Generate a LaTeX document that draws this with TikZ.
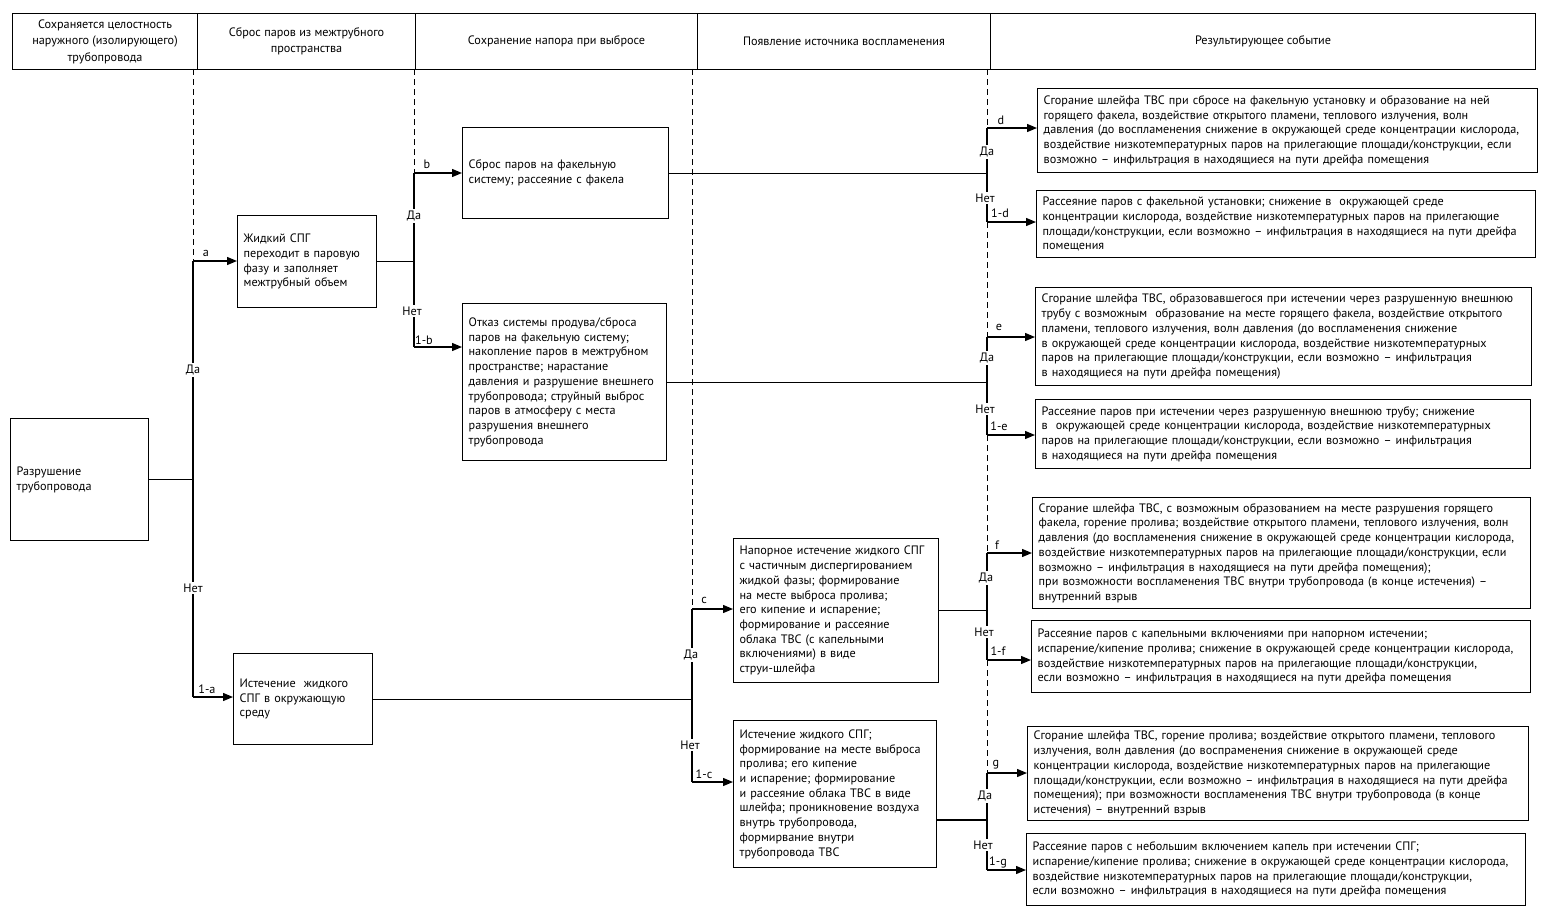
\documentclass[tikz,border=0pt]{standalone}
\usepackage{fontspec}
\setmainfont{PT Sans}
\usetikzlibrary{arrows.meta,calc}
\begin{document}
\begin{tikzpicture}[x=1pt,y=-1pt,
  txt/.style={font=\fontsize{12.2}{14.7}\selectfont},
  box/.style={draw, line width=1.3pt, align=left, inner xsep=6pt, inner ysep=2pt, anchor=north west, txt},
  hbox/.style={draw, line width=1pt, align=center, anchor=north west, minimum height=56pt, font=\fontsize{12.2}{16.5}\selectfont},
  conn/.style={line width=1.3pt},
  arr/.style={line width=1.3pt, -{Triangle[length=10pt,width=8pt]}},
  guide/.style={line width=0.7pt, dash pattern=on 6pt off 4pt},
  lbl/.style={inner sep=1pt, txt},
  yn/.style={fill=white, inner xsep=1pt, inner ysep=2pt, txt},
]
\useasboundingbox (0,0) rectangle (1547,907);

% header
\node[hbox, minimum width=185pt] (h1) at (12,13) {Сохраняется целостность\\наружного (изолирующего)\\трубопровода};
\node[hbox, minimum width=218pt] (h2) at (197,13) {Сброс паров из межтрубного\\пространства};
\node[hbox, minimum width=282pt] (h3) at (415,13) {Сохранение напора при выбросе};
\node[hbox, minimum width=293pt] (h4) at (697,13) {Появление источника воспламенения};
\node[hbox, minimum width=545pt] (h5) at (990,13) {Результирующее событие};

% left boxes
\node[box, text width=126pt, minimum height=122pt] (root) at (10,418) {Разрушение\\трубопровода};
\node[box, text width=127pt, minimum height=92pt] (liq) at (237,215) {Жидкий СПГ\\переходит в паровую\\фазу и заполняет\\межтрубный объем};
\node[box, text width=127pt, minimum height=91pt] (out) at (233,653) {Истечение \ жидкого\\СПГ в окружающую\\среду};
\node[box, text width=194pt, minimum height=91pt] (bb) at (462,127) {Сброс паров на факельную\\систему; рассеяние с факела};
\node[box, text width=192pt, minimum height=157pt] (nb) at (462,303) {Отказ системы продува/сброса\\паров на факельную систему;\\накопление паров в межтрубном\\пространстве; нарастание\\давления и разрушение внешнего\\трубопровода; струйный выброс\\паров в атмосферу с места\\разрушения внешнего\\трубопровода};
\node[box, text width=193pt, minimum height=144pt] (cc) at (733,538) {Напорное истечение жидкого СПГ\\с частичным диспергированием\\жидкой фазы; формирование\\на месте выброса пролива;\\его кипение и испарение;\\формирование и рассеяние\\облака ТВС (с капельными\\включениями) в виде\\струи-шлейфа};
\node[box, text width=191pt, minimum height=147pt] (nc) at (733,720) {Истечение жидкого СПГ;\\формирование на месте выброса\\пролива; его кипение\\и испарение; формирование\\и рассеяние облака ТВС в виде\\шлейфа; проникновение воздуха\\внутрь трубопровода,\\формирвание внутри\\трубопровода ТВС};

% result boxes
\node[box, text width=488pt, minimum height=84pt] (d) at (1037,88) {Сгорание шлейфа ТВС при сбросе на факельную установку и образование на ней\\горящего факела, воздействие открытого пламени, теплового излучения, волн\\давления (до воспламенения снижение в окружающей среде концентрации кислорода,\\воздействие низкотемпературных паров на прилегающие площади/конструкции, если\\возможно -- инфильтрация в находящиеся на пути дрейфа помещения};
\node[box, text width=487pt, minimum height=67pt] (nd) at (1036,190) {Рассеяние паров с факельной установки; снижение в \ окружающей среде\\концентрации кислорода, воздействие низкотемпературных паров на прилегающие\\площади/конструкции, если возможно -- инфильтрация в находящиеся на пути дрейфа\\помещения};
\node[box, text width=484pt, minimum height=98pt] (e) at (1035,287) {Сгорание шлейфа ТВС, образовавшегося при истечении через разрушенную внешнюю\\трубу с возможным \ образование на месте горящего факела, воздействие открытого\\пламени, теплового излучения, волн давления (до воспламенения снижение\\в окружающей среде концентрации кислорода, воздействие низкотемпературных\\паров на прилегающие площади/конструкции, если возможно -- инфильтрация\\в находящиеся на пути дрейфа помещения)};
\node[box, text width=483pt, minimum height=69pt] (ne) at (1035,399) {Рассеяние паров при истечении через разрушенную внешнюю трубу; снижение\\в \ окружающей среде концентрации кислорода, воздействие низкотемпературных\\паров на прилегающие площади/конструкции, если возможно -- инфильтрация\\в находящиеся на пути дрейфа помещения};
\node[box, text width=486pt, minimum height=111pt] (f) at (1032,497) {Сгорание шлейфа ТВС, с возможным образованием на месте разрушения горящего\\факела, горение пролива; воздействие открытого пламени, теплового излучения, волн\\давления (до воспламенения снижение в окружающей среде концентрации кислорода,\\воздействие низкотемпературных паров на прилегающие площади/конструкции, если\\возможно -- инфильтрация в находящиеся на пути дрейфа помещения);\\при возможности воспламенения ТВС внутри трубопровода (в конце истечения) --\\внутренний взрыв};
\node[box, text width=487pt, minimum height=72pt] (nf) at (1031,620) {Рассеяние паров с капельными включениями при напорном истечении;\\испарение/кипение пролива; снижение в окружающей среде концентрации кислорода,\\воздействие низкотемпературных паров на прилегающие площади/конструкции,\\если возможно -- инфильтрация в находящиеся на пути дрейфа помещения};
\node[box, text width=489pt, minimum height=94pt] (g) at (1027,726) {Сгорание шлейфа ТВС, горение пролива; воздействие открытого пламени, теплового\\излучения, волн давления (до воспраменения снижение в окружающей среде\\концентрации кислорода, воздействие низкотемпературных паров на прилегающие\\площади/конструкции, если возможно -- инфильтрация в находящиеся на пути дрейфа\\помещения); при возможности воспламенения ТВС внутри трубопровода (в конце\\истечения) -- внутренний взрыв};
\node[box, text width=487pt, minimum height=72pt] (ng) at (1026,833) {Рассеяние паров с небольшим включением капель при истечении СПГ;\\испарение/кипение пролива; снижение в окружающей среде концентрации кислорода,\\воздействие низкотемпературных паров на прилегающие площади/конструкции,\\если возможно -- инфильтрация в находящиеся на пути дрейфа помещения};

% junction coordinates
\coordinate (t1) at (193,69);
\coordinate (t2) at (414,69);
\coordinate (t3) at (692,69);
\coordinate (t4) at (987,69);
\coordinate (ka) at (193,261);
\coordinate (k1a) at (193,697);
\coordinate (kb) at (414,173);
\coordinate (k1b) at (414,347);
\coordinate (kc) at (692,609);
\coordinate (k1c) at (692,782);
\coordinate (kd) at (987,128);
\coordinate (k1d) at (987,222);
\coordinate (ke) at (987,337);
\coordinate (k1e) at (987,435);
\coordinate (kf) at (987,553);
\coordinate (k1f) at (987,660);
\coordinate (kg) at (987,773);
\coordinate (k1g) at (987,870);
\coordinate (kgj) at (987,820);

% guide lines
\draw[guide] (t1) -- (ka);
\draw[guide] (t2) -- (kb);
\draw[guide] (t3) -- (kc);
\draw[guide] (t4) -- (kd);
\draw[guide] (k1d) -- (ke);
\draw[guide] (k1e) -- (kf);
\draw[guide] (k1f) -- (kg);

% column 1
\draw[conn] (root.east) -- (root.east -| ka);
\draw[conn] (ka) -- (k1a);
\draw[arr] (ka) -- (ka -| liq.west);
\draw[arr] (k1a) -- (k1a -| out.west);
% column 2
\draw[conn] (liq.east) -- (liq.east -| kb);
\draw[conn] (kb) -- (k1b);
\draw[arr] (kb) -- (kb -| bb.west);
\draw[arr] (k1b) -- (k1b -| nb.west);
% column 3
\draw[conn] (out.east) -- (out.east -| kc);
\draw[conn] (kc) -- (k1c);
\draw[arr] (kc) -- (kc -| cc.west);
\draw[arr] (k1c) -- (k1c -| nc.west);
% column 4
\draw[conn] (bb.east) -- (bb.east -| kd);
\draw[conn] (kd) -- (k1d);
\draw[arr] (kd) -- (kd -| d.west);
\draw[arr] (k1d) -- (k1d -| nd.west);
\draw[conn] (nb.east) -- (nb.east -| ke);
\draw[conn] (ke) -- (k1e);
\draw[arr] (ke) -- (ke -| e.west);
\draw[arr] (k1e) -- (k1e -| ne.west);
\draw[conn] (cc.east) -- (cc.east -| kf);
\draw[conn] (kf) -- (k1f);
\draw[arr] (kf) -- (kf -| f.west);
\draw[arr] (k1f) -- (k1f -| nf.west);
\draw[conn] (kgj -| nc.east) -- (kgj);
\draw[conn] (kg) -- (k1g);
\draw[arr] (kg) -- (kg -| g.west);
\draw[arr] (k1g) -- (k1g -| ng.west);

% yes/no labels
\node[yn] (y1) at (193,370) {Да};
\node[yn] (n1) at (193,588) {Нет};
\node[yn] (y2) at (414,216) {Да};
\node[yn] (n2) at (412,311) {Нет};
\node[yn] (y3) at (691,655) {Да};
\node[yn] (n3) at (690,745) {Нет};
\node[yn] (y4) at (987,152) {Да};
\node[yn] (n4) at (985,198) {Нет};
\node[yn] (y5) at (987,358) {Да};
\node[yn] (n5) at (985,409) {Нет};
\node[yn] (y6) at (986,578) {Да};
\node[yn] (n6) at (984,632) {Нет};
\node[yn] (y7) at (985,796) {Да};
\node[yn] (n7) at (983,845) {Нет};

% branch letters
\node[lbl] (la) at (206,253) {a};
\node[lbl] (l1a) at (207,689) {1-a};
\node[lbl] (lb) at (427,164) {b};
\node[lbl] (l1b) at (424,340) {1-b};
\node[lbl] (lc) at (704,600) {c};
\node[lbl] (l1c) at (704,774) {1-c};
\node[lbl] (ld) at (1001,120) {d};
\node[lbl] (l1d) at (1000,213) {1-d};
\node[lbl] (le) at (999,327) {e};
\node[lbl] (l1e) at (999,426) {1-e};
\node[lbl] (lf) at (997,545) {f};
\node[lbl] (l1f) at (998,651) {1-f};
\node[lbl] (lg) at (996,765) {g};
\node[lbl] (l1g) at (998,862) {1-g};
\end{tikzpicture}
\end{document}
